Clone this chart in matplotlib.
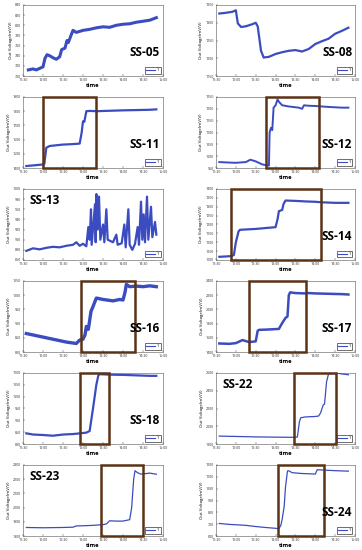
import matplotlib
matplotlib.use("Agg")
import matplotlib.pyplot as plt
from matplotlib.patches import Rectangle

plt.rcParams['font.family'] = ['Open Sans', 'DejaVu Sans']

# ---------------- data ----------------
xtick_labels = ["11:30", "12:00", "12:30", "13:00", "13:30", "14:00", "14:30", "15:00"]

ss05_t = ["11:38", "11:45", "11:50", "11:55", "12:00", "12:03", "12:06", "12:10", "12:15", "12:20", "12:25", "12:28",
          "12:33", "12:36", "12:38", "12:42", "12:45", "12:50", "13:00", "13:10", "13:20", "13:30", "13:40", "13:50",
          "14:00", "14:10", "14:20", "14:30", "14:40", "14:50"]
ss05_v = [712, 714, 712, 715, 718, 735, 742, 740, 736, 733, 738, 752, 755, 770, 766, 780, 790, 786, 790, 792, 795,
          797, 796, 800, 802, 803, 806, 808, 810, 815]
ss05_ticks = [700, 720, 740, 760, 780, 800, 820, 840]

ss08_t = ["11:35", "11:45", "11:55", "12:00", "12:03", "12:08", "12:15", "12:25", "12:30", "12:33", "12:38", "12:42",
          "12:50", "13:00", "13:10", "13:20", "13:30", "13:40", "13:50", "14:00", "14:10", "14:20", "14:30", "14:40",
          "14:50"]
ss08_v = [1326, 1328, 1331, 1335, 1298, 1288, 1290, 1296, 1300, 1290, 1221, 1202, 1204, 1212, 1217, 1221, 1223,
          1219, 1226, 1240, 1248, 1255, 1269, 1277, 1286]
ss08_ticks = [1150, 1200, 1250, 1300, 1350]

ss11_t = ["11:35", "11:45", "12:00", "12:02", "12:05", "12:10", "12:20", "12:30", "12:40", "12:50", "12:55", "12:58",
          "13:00", "13:02", "13:05", "13:10", "13:20", "13:40", "14:00", "14:20", "14:40", "14:50"]
ss11_v = [1414, 1418, 1425, 1430, 1543, 1555, 1560, 1565, 1567, 1570, 1572, 1650, 1729, 1725, 1800, 1802, 1800,
          1803, 1806, 1808, 1810, 1813]
ss11_ticks = [1400, 1500, 1600, 1700, 1800, 1900]
ss11_box = ["12:00", "13:20"]

ss12_t = ["11:35", "11:50", "12:00", "12:15", "12:22", "12:30", "12:40", "12:48", "12:50", "12:51", "12:53", "12:55",
          "12:57", "13:00", "13:03", "13:05", "13:10", "13:20", "13:35", "13:40", "13:43", "13:50", "14:00", "14:20",
          "14:40", "14:50"]
ss12_v = [975, 973, 972, 975, 985, 978, 965, 961, 960, 1100, 1120, 1110, 1205, 1215, 1240, 1230, 1215, 1210, 1205,
          1200, 1215, 1213, 1212, 1208, 1205, 1205]
ss12_ticks = [950, 1000, 1050, 1100, 1150, 1200, 1250]
ss12_box = ["12:45", "14:05"]

ss13_t = ["11:35", "11:45", "11:55", "12:05", "12:15", "12:25", "12:35", "12:45", "12:50", "12:55", "13:00", "13:05",
          "13:08", "13:10", "13:12", "13:13", "13:18", "13:19", "13:20", "13:22", "13:24", "13:26", "13:30", "13:32",
          "13:35", "13:37", "13:45", "13:50", "13:52", "13:58", "14:02", "14:04", "14:08", "14:10", "14:14", "14:18",
          "14:22", "14:24", "14:27", "14:29", "14:31", "14:33", "14:36", "14:38", "14:42", "14:44", "14:48", "14:50"]
ss13_v = [878, 883, 881, 884, 886, 885, 888, 890, 895, 888, 892, 887, 925, 900, 960, 890, 970, 895, 990, 920, 985,
          900, 930, 895, 960, 900, 895, 910, 890, 893, 930, 885, 960, 890, 880, 892, 925, 890, 975, 900, 950, 895,
          985, 900, 965, 905, 935, 910]
ss13_ticks = [860, 880, 900, 920, 940, 960, 980, 1000]

ss14_t = ["11:35", "11:45", "11:53", "11:57", "12:00", "12:02", "12:04", "12:06", "12:15", "12:30", "12:45", "13:00",
          "13:03", "13:05", "13:10", "13:12", "13:15", "13:30", "13:45", "14:00", "14:10", "14:30", "14:50"]
ss14_v = [1018, 1020, 1022, 1028, 1100, 1130, 1160, 1170, 1172, 1175, 1180, 1185, 1230, 1275, 1282, 1315, 1335,
          1333, 1330, 1328, 1325, 1322, 1322]
ss14_ticks = [1000, 1050, 1100, 1150, 1200, 1250, 1300, 1350, 1400]
ss14_box = ["11:53", "14:08"]

ss16_t = ["11:35", "11:45", "11:55", "12:05", "12:15", "12:25", "12:35", "12:50", "12:55", "13:00", "13:03", "13:05",
          "13:08", "13:12", "13:15", "13:20", "13:30", "13:45", "13:55", "14:00", "14:03", "14:05", "14:10", "14:20",
          "14:30", "14:40", "14:50"]
ss16_v = [865, 860, 855, 850, 845, 840, 835, 830, 842, 845, 860, 890, 880, 943, 960, 990, 985, 980, 985, 983, 1010,
          1038, 1030, 1032, 1030, 1033, 1030]
ss16_ticks = [800, 850, 900, 950, 1000, 1050]
ss16_box = ["12:57", "14:18"]

ss17_t = ["11:35", "11:50", "12:00", "12:10", "12:20", "12:25", "12:30", "12:33", "12:35", "12:45", "12:55", "13:05",
          "13:10", "13:15", "13:18", "13:20", "13:22", "13:30", "13:45", "13:50", "14:00", "14:20", "14:40", "14:50"]
ss17_v = [1520, 1515, 1525, 1568, 1540, 1545, 1550, 1700, 1712, 1715, 1720, 1725, 1808, 1880, 1900, 2200, 2240,
          2230, 2225, 2230, 2225, 2220, 2215, 2210]
ss17_ticks = [1400, 1600, 1800, 2000, 2200, 2400]
ss17_box = ["12:20", "13:46"]

ss18_t = ["11:35", "11:45", "12:00", "12:15", "12:30", "12:45", "12:55", "13:05", "13:10", "13:15", "13:20", "13:23",
          "13:25", "13:40", "14:00", "14:20", "14:40", "14:50"]
ss18_v = [845, 840, 838, 835, 840, 842, 845, 848, 855, 950, 1050, 1090, 1095, 1093, 1092, 1090, 1088, 1088]
ss18_ticks = [800, 850, 900, 950, 1000, 1050, 1100]
ss18_box = ["12:56", "13:39"]

ss22_t = ["11:35", "12:00", "12:30", "13:00", "13:30", "13:33", "13:36", "13:38", "13:45", "14:00", "14:05", "14:08",
          "14:12", "14:14", "14:17", "14:20", "14:30", "14:40", "14:50"]
ss22_v = [1889, 1885, 1880, 1877, 1875, 1880, 2050, 2096, 2105, 2110, 2115, 2150, 2240, 2250, 2500, 2590, 2600,
          2590, 2580]
ss22_ticks = [1800, 2000, 2200, 2400, 2600]
ss22_box = ["13:28", "14:32"]

ss23_t = ["11:35", "12:00", "12:30", "12:45", "12:50", "13:00", "13:15", "13:30", "13:35", "13:40", "13:50", "14:00",
          "14:05", "14:10", "14:13", "14:16", "14:18", "14:22", "14:27", "14:35", "14:40", "14:50"]
ss23_v = [1860, 1858, 1860, 1862, 1871, 1872, 1875, 1880, 1885, 1907, 1905, 1905, 1910, 1915, 2000, 2200, 2260,
          2245, 2236, 2240, 2243, 2235]
ss23_ticks = [1800, 1900, 2000, 2100, 2200, 2300]
ss23_box = ["13:27", "14:30"]

ss24_t = ["11:35", "11:50", "12:00", "12:15", "12:30", "12:45", "13:00", "13:05", "13:08", "13:10", "13:13", "13:15",
          "13:18", "13:20", "13:25", "13:40", "13:55", "14:00", "14:03", "14:10", "14:30", "14:50"]
ss24_v = [706, 698, 695, 690, 680, 672, 665, 662, 690, 743, 850, 1014, 1150, 1151, 1135, 1128, 1125, 1123, 1160,
          1158, 1152, 1148]
ss24_ticks = [600, 700, 800, 900, 1000, 1100, 1200]
ss24_box = ["13:04", "14:13"]

panel_names = ["SS-05", "SS-08", "SS-11", "SS-12", "SS-13", "SS-14",
               "SS-16", "SS-17", "SS-18", "SS-22", "SS-23", "SS-24"]


def tmin(s):
    h, m = s.split(":")
    return (int(h) - 11) * 60 + int(m) - 30


panels = [
    (ss05_t, ss05_v, ss05_ticks, None, "lr", 2.2),
    (ss08_t, ss08_v, ss08_ticks, None, "lr", 1.6),
    (ss11_t, ss11_v, ss11_ticks, ss11_box, "lr", 1.6),
    (ss12_t, ss12_v, ss12_ticks, ss12_box, "lr", 1.4),
    (ss13_t, ss13_v, ss13_ticks, None, "ul", 1.6),
    (ss14_t, ss14_v, ss14_ticks, ss14_box, "lr", 1.6),
    (ss16_t, ss16_v, ss16_ticks, ss16_box, "lr", 2.4),
    (ss17_t, ss17_v, ss17_ticks, ss17_box, "lr", 1.8),
    (ss18_t, ss18_v, ss18_ticks, ss18_box, "lr", 1.6),
    (ss22_t, ss22_v, ss22_ticks, ss22_box, "ul", 0.9),
    (ss23_t, ss23_v, ss23_ticks, ss23_box, "ul", 0.9),
    (ss24_t, ss24_v, ss24_ticks, ss24_box, "lr", 0.9),
]

W, H = 362, 550
fig = plt.figure(figsize=(W / 100, H / 100), dpi=100)

col_left = [23, 216]
col_w = [140, 139]
row_top = [5, 97, 189, 281, 373, 465]
ph = 71

line_color = "#3b4cc0"
box_color = "#5a3316"
xt = [tmin(s) for s in xtick_labels]

for i, (ts, vs, yt, box, lab_pos, lw) in enumerate(panels):
    r, c = divmod(i, 2)
    ax = fig.add_axes([col_left[c] / W, 1 - (row_top[r] + ph) / H, col_w[c] / W, ph / H])
    x = [tmin(s) for s in ts]
    ax.plot(x, vs, color=line_color, lw=lw, label="1")
    ax.set_xlim(xt[0], xt[-1])
    ax.set_ylim(yt[0], yt[-1])
    ax.set_xticks(xt)
    ax.set_xticklabels(xtick_labels)
    ax.set_yticks(yt)
    ax.tick_params(labelsize=2.6, direction="in", length=1.5, width=0.3, pad=1.5, colors="#333333")
    for sp in ax.spines.values():
        sp.set_linewidth(0.4)
        sp.set_color("#555555")
    ax.set_xlabel("time", fontsize=4.2, fontweight="bold", labelpad=1)
    ax.set_ylabel("Out Voltage(mV/V)", fontsize=3.2, labelpad=1.5)
    if box is not None:
        x0, x1 = tmin(box[0]), tmin(box[1])
        rect = Rectangle((x0, yt[0]), x1 - x0, yt[-1] - yt[0], fill=False,
                         edgecolor=box_color, lw=1.8, zorder=5, clip_on=False)
        ax.add_patch(rect)
    if lab_pos == "lr":
        ax.text(0.98, 0.24, panel_names[i], transform=ax.transAxes, ha="right", va="bottom",
                fontsize=8.5, fontweight="bold", zorder=6)
    else:
        ax.text(0.05, 0.93, panel_names[i], transform=ax.transAxes, ha="left", va="top",
                fontsize=8.5, fontweight="bold", zorder=6)
    leg = ax.legend(loc="lower right", fontsize=3, handlelength=2.2, borderpad=0.3,
                    fancybox=False, framealpha=1, borderaxespad=0.6, handletextpad=0.4)
    leg.get_frame().set_edgecolor("black")
    leg.get_frame().set_linewidth(0.4)
    for h in leg.get_lines():
        h.set_linewidth(0.8)

fig.savefig("out.png", dpi=100)
